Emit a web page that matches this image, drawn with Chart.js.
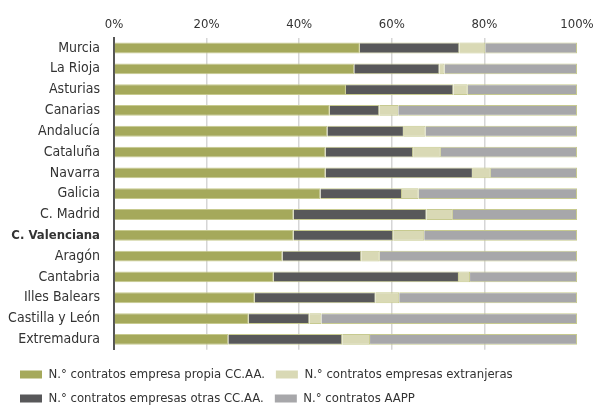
<!DOCTYPE html>
<html>
<head>
<meta charset="utf-8">
<script src="https://cdn.jsdelivr.net/npm/chart.js@4"></script>
<style>
html,body{margin:0;padding:0;background:#fff;overflow:hidden;}
#wrap{width:597px;height:407px;position:relative;}
</style>
</head>
<body>
<div id="wrap"><canvas id="c" width="597" height="407"></canvas></div>
<script>
const categories = ["Murcia","La Rioja","Asturias","Canarias","Andalucía","Cataluña","Navarra","Galicia","C. Madrid","C. Valenciana","Aragón","Cantabria","Illes Balears","Castilla y León","Extremadura"];
const propia     = [53.1,51.9,50.1,46.6,46.1,45.7,45.7,44.6,38.8,38.8,36.4,34.5,30.4,29.1,24.7];
const otras      = [21.5,18.4,23.2,10.7,16.5,18.9,31.8,17.6,28.7,21.5,17.0,40.0,26.1,13.1,24.6];
const extranjeras= [5.6,1.1,3.1,4.1,4.7,6.0,3.9,3.6,5.7,6.7,4.0,2.4,5.1,2.6,6.0];
const aapp       = [19.8,28.6,23.6,38.6,32.7,29.4,18.6,34.2,26.8,33.0,42.6,23.1,38.4,55.2,44.7];
const xTicks = [0,20,40,60,80,100];
const seriesNames = ["N.° contratos empresa propia CC.AA.","N.° contratos empresas otras CC.AA.","N.° contratos empresas extranjeras","N.° contratos AAPP"];
const boldCategory = "C. Valenciana";

const FONT = "'DejaVu Sans Condensed','Open Sans',sans-serif";
const legendOrder = [0,2,1,3];

const legendShift = {
  id: 'legendShift',
  afterLayout(chart) {
    if (chart.legend) { chart.legend.left += 9; chart.legend.right += 9; }
  }
};

new Chart(document.getElementById('c'), {
  type: 'bar',
  data: {
    labels: categories,
    datasets: [
      {label: seriesNames[0], data: propia, backgroundColor: '#a5a95b', borderColor: '#c7ca8f', borderWidth: 1},
      {label: seriesNames[1], data: otras, backgroundColor: '#58585a', borderColor: '#c7ca8f', borderWidth: 1},
      {label: seriesNames[2], data: extranjeras, backgroundColor: '#d9d9b5', borderColor: '#c7ca8f', borderWidth: 1},
      {label: seriesNames[3], data: aapp, backgroundColor: '#a7a7aa', borderColor: '#c7ca8f', borderWidth: 1}
    ]
  },
  plugins: [legendShift],
  options: {
    indexAxis: 'y',
    responsive: false,
    animation: false,
    devicePixelRatio: 1,
    layout: {padding: {left: 0, right: 0, top: 12, bottom: -8}},
    datasets: {bar: {barPercentage: 0.52, categoryPercentage: 1.0}},
    scales: {
      x: {
        position: 'top',
        stacked: true,
        min: 0, max: 100,
        afterBuildTicks: (s) => { s.ticks = xTicks.map(v => ({value: v})); },
        afterFit: (s) => { s.paddingRight = 20; s.paddingLeft = 0; },
        ticks: {
          callback: (v) => v + '%',
          color: '#333',
          font: {family: FONT, size: 13},
          padding: 5
        },
        grid: {
          color: (ctx) => (ctx.tick && (ctx.tick.value === 0 || ctx.tick.value === 100)) ? 'rgba(0,0,0,0)' : '#d6d6d6',
          lineWidth: 1.5,
          drawTicks: false
        },
        border: {display: false}
      },
      y: {
        stacked: true,
        afterFit: (s) => { s.width = 114; },
        ticks: {
          color: '#333',
          padding: 6,
          font: (ctx) => (categories[ctx.index] === boldCategory)
            ? {family: FONT, size: 13, weight: 'bold'}
            : {family: FONT, size: 14, weight: 'normal'}
        },
        grid: {display: false},
        border: {display: true, color: '#555', width: 2}
      }
    },
    plugins: {
      legend: {
        position: 'bottom',
        align: 'start',
        title: {display: true, text: ' ', font: {size: 1}, padding: 3},
        labels: {
          boxWidth: 22,
          boxHeight: 8,
          padding: 11,
          color: '#333',
          font: {family: FONT, size: 13},
          sort: (a, b) => legendOrder.indexOf(a.datasetIndex) - legendOrder.indexOf(b.datasetIndex),
          generateLabels: (chart) => chart.data.datasets.map((d, i) => ({
            text: d.label, fillStyle: d.backgroundColor, strokeStyle: d.backgroundColor, lineWidth: 0, datasetIndex: i, hidden: false, fontColor: '#333'
          }))
        }
      },
      tooltip: {enabled: false}
    }
  }
});
</script>
</body>
</html>
